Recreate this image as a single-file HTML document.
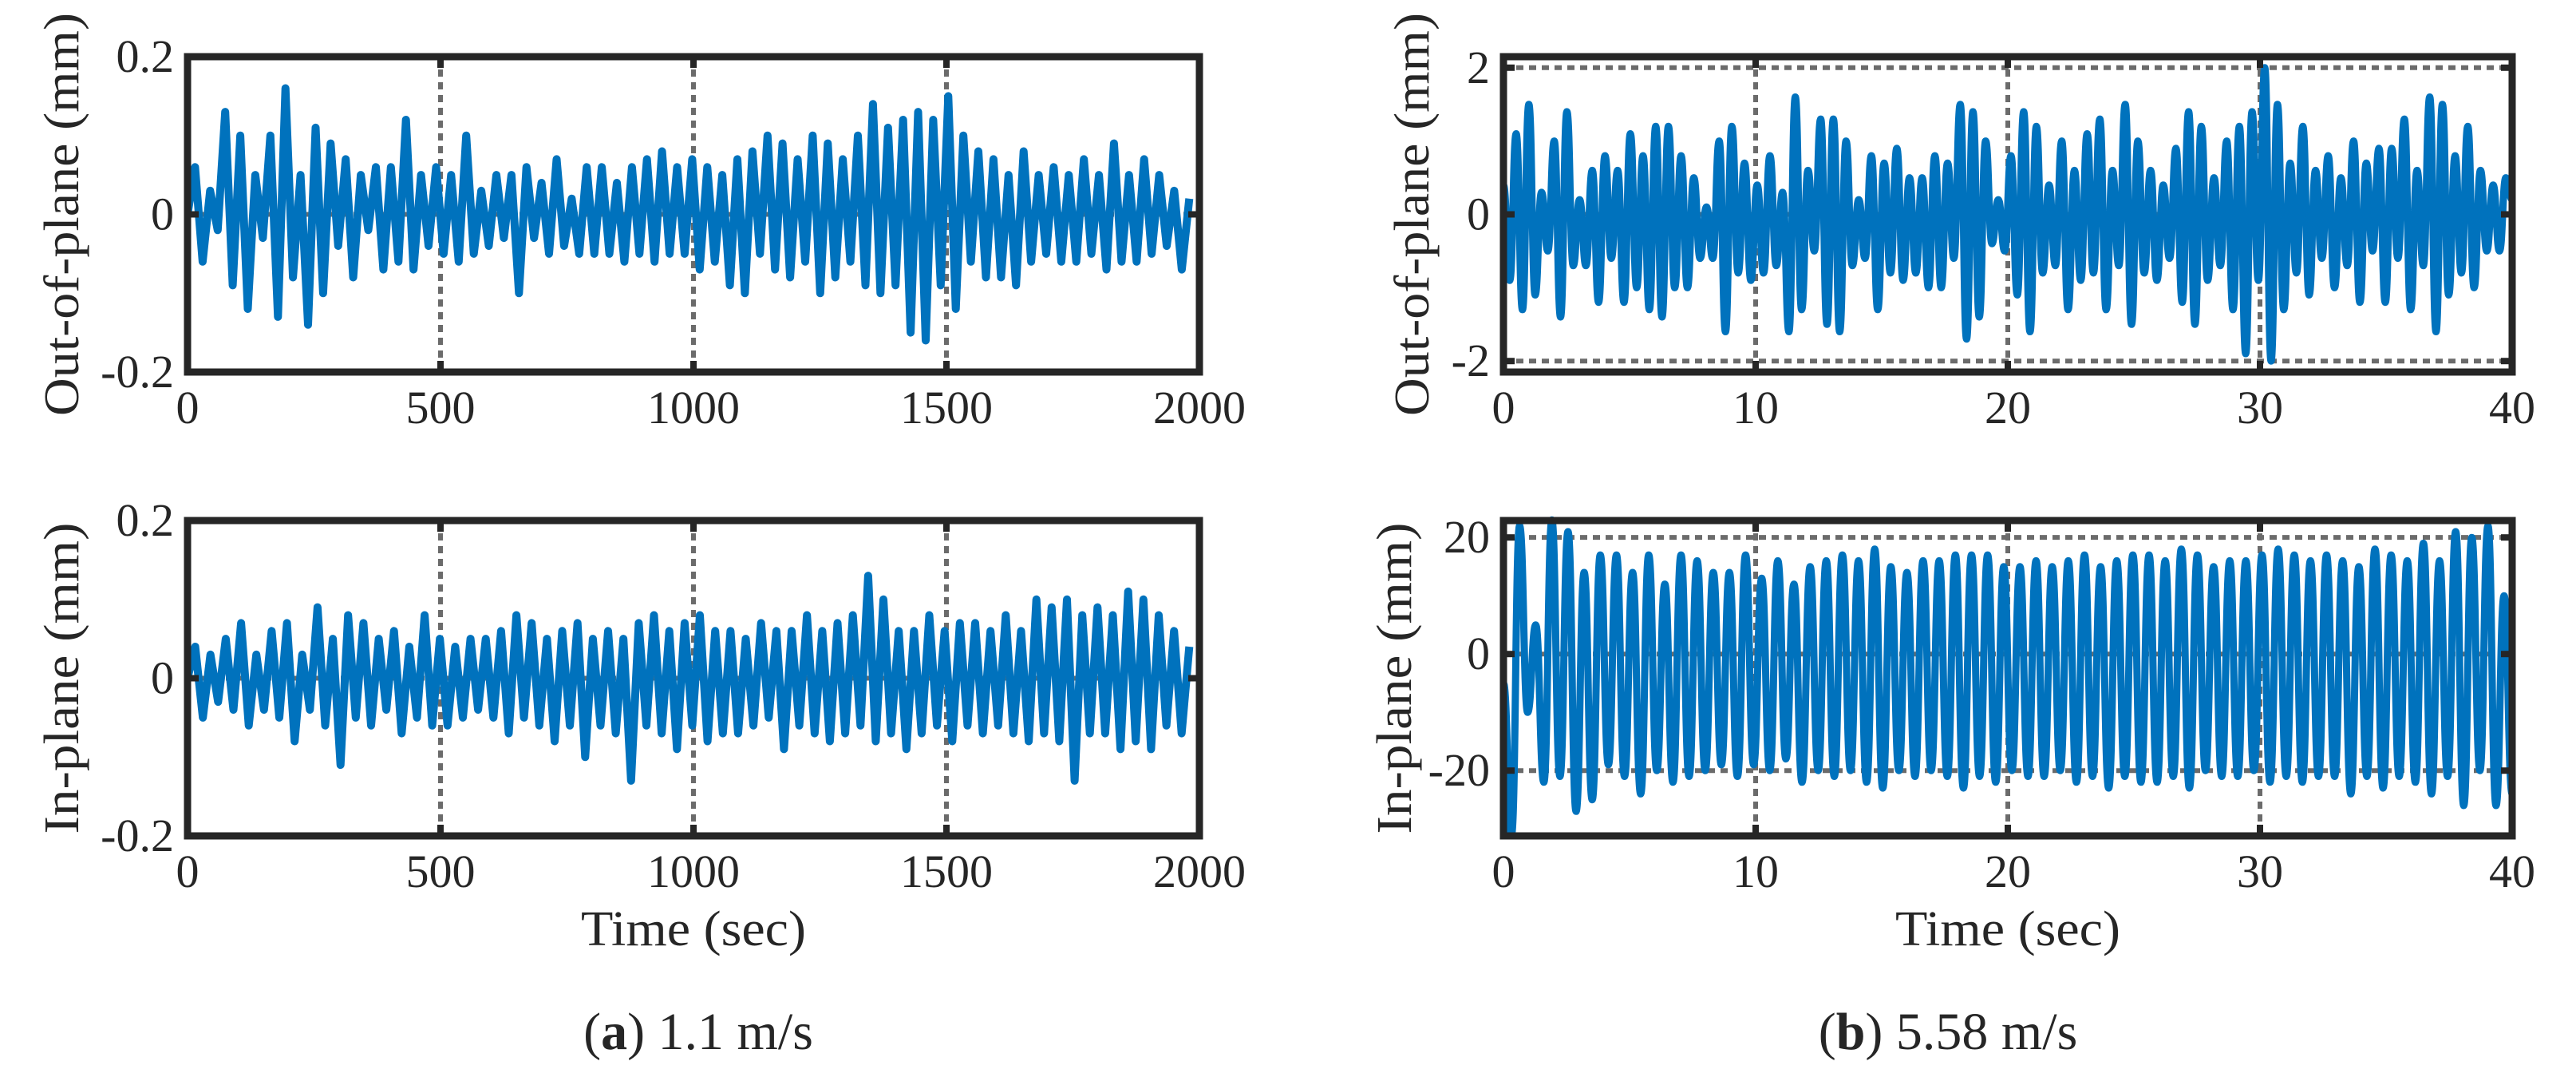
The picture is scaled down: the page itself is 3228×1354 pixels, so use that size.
<!DOCTYPE html>
<html><head><meta charset="utf-8"><style>
html,body{margin:0;padding:0;background:#fff;}
svg{display:block;}
text{font-family:"Liberation Serif",serif;fill:#262626;}
</style></head><body>
<svg id="fig" width="3228" height="1354" viewBox="0 0 3228 1354" xmlns="http://www.w3.org/2000/svg">
<g id="layer"></g>
<text x="875" y="1314" font-size="66" text-anchor="middle">(<tspan font-weight="bold">a</tspan>) 1.1 m/s</text>
<text x="2441" y="1314" font-size="66" text-anchor="middle">(<tspan font-weight="bold">b</tspan>) 5.58 m/s</text>
</svg>
<script>
// ---- data ----
const aOutValues = [0,0.06,-0.06,0.03,-0.02,0.13,-0.09,0.1,-0.12,0.05,-0.03,0.1,-0.13,0.16,-0.08,0.05,-0.14,0.11,-0.1,0.09,-0.04,0.07,-0.08,0.05,-0.02,0.06,-0.07,0.06,-0.06,0.12,-0.07,0.05,-0.04,0.06,-0.05,0.05,-0.06,0.1,-0.05,0.03,-0.04,0.05,-0.03,0.05,-0.1,0.06,-0.03,0.04,-0.05,0.07,-0.04,0.02,-0.05,0.06,-0.05,0.06,-0.05,0.04,-0.06,0.06,-0.05,0.07,-0.06,0.08,-0.05,0.06,-0.05,0.07,-0.07,0.06,-0.06,0.05,-0.09,0.07,-0.1,0.08,-0.05,0.1,-0.07,0.09,-0.08,0.07,-0.06,0.1,-0.1,0.09,-0.08,0.07,-0.06,0.1,-0.09,0.14,-0.1,0.11,-0.09,0.12,-0.15,0.13,-0.16,0.12,-0.09,0.15,-0.12,0.1,-0.06,0.08,-0.08,0.07,-0.08,0.05,-0.09,0.08,-0.06,0.05,-0.05,0.06,-0.06,0.05,-0.06,0.07,-0.05,0.05,-0.07,0.09,-0.06,0.05,-0.06,0.07,-0.05,0.05,-0.04,0.03,-0.07,0.02];
const aInValues = [0,0.04,-0.05,0.03,-0.03,0.05,-0.04,0.07,-0.06,0.03,-0.04,0.06,-0.05,0.07,-0.08,0.03,-0.04,0.09,-0.06,0.05,-0.11,0.08,-0.05,0.07,-0.06,0.05,-0.04,0.06,-0.07,0.04,-0.05,0.08,-0.06,0.05,-0.06,0.04,-0.05,0.05,-0.04,0.05,-0.05,0.06,-0.07,0.08,-0.05,0.07,-0.06,0.05,-0.08,0.06,-0.06,0.07,-0.1,0.05,-0.06,0.06,-0.07,0.05,-0.13,0.07,-0.06,0.08,-0.07,0.06,-0.09,0.07,-0.06,0.08,-0.08,0.06,-0.07,0.06,-0.07,0.05,-0.06,0.07,-0.05,0.06,-0.09,0.06,-0.06,0.08,-0.07,0.06,-0.08,0.07,-0.07,0.08,-0.06,0.13,-0.08,0.1,-0.07,0.06,-0.09,0.06,-0.07,0.08,-0.06,0.06,-0.08,0.07,-0.06,0.07,-0.07,0.06,-0.06,0.08,-0.07,0.06,-0.08,0.1,-0.07,0.09,-0.08,0.1,-0.13,0.08,-0.07,0.09,-0.07,0.08,-0.09,0.11,-0.08,0.1,-0.09,0.08,-0.06,0.06,-0.07,0.04];
const bOutValues = [0.4,-0.9,1.1,-1.3,1.5,-1.1,0.3,-0.5,1.0,-1.4,1.4,-0.7,0.2,-0.7,0.6,-1.2,0.8,-0.6,0.6,-1.2,1.1,-1.0,0.8,-1.3,1.2,-1.4,1.2,-1.0,0.8,-1.0,0.5,-0.6,0.1,-0.6,1.0,-1.6,1.2,-0.8,0.7,-0.9,
0.4,-0.8,0.8,-0.7,0.3,-1.6,1.6,-1.3,0.6,-0.5,1.3,-1.5,1.3,-1.6,1.0,-0.7,0.2,-0.6,0.8,-1.3,0.7,-0.8,0.9,-0.9,0.5,-0.8,0.5,-1.0,0.8,-1.0,0.7,-0.6,1.5,-1.7,1.4,-1.4,1.0,-0.4,0.2,-0.5,
0.8,-1.1,1.4,-1.6,1.2,-0.8,0.4,-0.7,1.0,-1.3,0.6,-0.9,1.1,-0.8,1.3,-1.3,0.6,-0.7,1.5,-1.5,1.0,-0.8,0.6,-0.9,0.4,-0.6,0.9,-1.2,1.4,-1.5,1.2,-0.9,0.5,-0.7,1.0,-1.3,1.2,-1.9,1.4,-0.9,
2.0,-2.0,1.5,-1.3,0.7,-0.8,1.2,-1.1,0.6,-0.6,0.8,-1.0,0.5,-0.7,1.0,-1.2,0.7,-0.5,0.9,-1.2,0.9,-0.6,1.3,-1.3,0.6,-0.7,1.6,-1.6,1.5,-1.1,0.8,-0.8,1.2,-1.0,0.6,-0.5,0.4,-0.5,0.5,0.2];
const bInValues = [-5,-31,22,-10,5,-22,23,-21,21,-27,14,-25,17,-19,17,-21,14,-24,17,-20,12,-22,17,-21,16,-20,14,-19,14,-21,17,-19,13,-20,16,-18,12,-22,15,-20,
16,-21,17,-20,16,-22,18,-23,15,-20,14,-21,16,-20,16,-21,17,-23,17,-21,17,-22,15,-20,15,-21,16,-21,15,-20,16,-22,17,-21,15,-23,16,-21,17,-22,17,-22,16,
-21,18,-23,17,-20,15,-21,16,-21,16,-20,17,-22,18,-21,17,-22,16,-21,17,-21,16,-24,15,-21,18,-23,17,-21,16,-22,19,-24,16,-21,21,-26,20,-20,22,-26,10,-24];
const aTicksX = [0,500,1000,1500,2000];
const bTicksX = [0,10,20,30,40];
const aTicksY = [-0.2,0,0.2];
const aTickLabelsY = ["-0.2","0","0.2"];
const bOutTicksY = [-2,0,2];
const bInTicksY = [-20,0,20];

// ---- layout ----
const NS = "http://www.w3.org/2000/svg";
const layer = document.getElementById('layer');
function mk(tag, attrs, parent){ const e=document.createElementNS(NS,tag); for(const k in attrs) e.setAttribute(k,attrs[k]); (parent||layer).appendChild(e); return e; }

function panel(o){
  const g = mk('g',{});
  
  
  const sx = v => o.x0 + (v-o.xmin)/(o.xmax-o.xmin)*(o.x1-o.x0);
  const sy = v => o.y1 - (v-o.ymin)/(o.ymax-o.ymin)*(o.y1-o.y0);
  o.gridX.forEach(v=>{ const l=mk('line',{x1:sx(v),x2:sx(v),y1:o.y0,y2:o.y1,stroke:'#6b6b6b','stroke-width':6,'stroke-dasharray':'9 7'},g);
      });
  o.gridY.forEach(v=>{ const l=mk('line',{x1:o.x0,x2:o.x1,y1:sy(v),y2:sy(v),stroke:'#6b6b6b','stroke-width':6,'stroke-dasharray':'9 7'},g);
      });
  const vals=o.values, n=vals.length, dt=o.span/(n-1);
  const pts = vals.map((v,i)=>[sx(i*dt), sy(v)]);
  let d = 'M'+pts[0][0].toFixed(1)+','+pts[0][1].toFixed(1);
  for(let i=1;i<n;i++){
    if(o.smooth){ const mx=(pts[i-1][0]+pts[i][0])/2;
      d+=' C'+mx.toFixed(1)+','+pts[i-1][1].toFixed(1)+' '+mx.toFixed(1)+','+pts[i][1].toFixed(1)+' '+pts[i][0].toFixed(1)+','+pts[i][1].toFixed(1);
    } else d+=' L'+pts[i][0].toFixed(1)+','+pts[i][1].toFixed(1);
  }
  const cp = mk('clipPath',{id:o.name+'-clip'},g);
  mk('rect',{x:o.x0,y:o.y0-6,width:o.x1-o.x0,height:o.y1-o.y0+12},cp);
  const p = mk('path',{d:d,fill:'none',stroke:'#0072BD','stroke-width':o.sw,'stroke-linejoin':'round','clip-path':'url(#'+o.name+'-clip)'},g);
   
  o.ticksX.forEach(v=>{ [[o.y1,o.y1-14],[o.y0,o.y0+14]].forEach(([a,b])=>mk('line',{x1:sx(v),x2:sx(v),y1:a,y2:b,stroke:'#262626','stroke-width':8},g)); });
  o.ticksY.forEach(v=>{ [[o.x0,o.x0+14],[o.x1,o.x1-14]].forEach(([a,b])=>mk('line',{x1:a,x2:b,y1:sy(v),y2:sy(v),stroke:'#262626','stroke-width':8},g)); });
  const r = mk('rect',{x:o.x0,y:o.y0,width:o.x1-o.x0,height:o.y1-o.y0,fill:'none',stroke:'#262626','stroke-width':9},g);
   
  o.ticksX.forEach(v=>{ const t=mk('text',{x:sx(v),y:o.y1+64,'font-size':58,'text-anchor':'middle'},g); t.textContent=String(v);
      });
  o.ticksY.forEach((v,i)=>{ const t=mk('text',{x:o.x0-17,y:sy(v)+19,'font-size':58,'text-anchor':'end'},g); t.textContent=o.tickLabelsY[i];
      });
  const yl = mk('text',{x:0,y:0,'font-size':62,'text-anchor':'middle',textLength:o.ylen,lengthAdjust:'spacingAndGlyphs',transform:'translate('+o.ylx+','+((o.y0+o.y1)/2)+') rotate(-90)'},g);
  yl.textContent=o.ylabel;
   
  if(o.xlabel){ const xl=mk('text',{x:(o.x0+o.x1)/2,y:o.y1+137,'font-size':62,'text-anchor':'middle',textLength:282,lengthAdjust:'spacingAndGlyphs'},g); xl.textContent=o.xlabel;
      }
}

panel({name:'panel-a-out-of-plane',x0:235,x1:1503,y0:71,y1:466,xmin:0,xmax:2000,ymin:-0.2,ymax:0.2,values:aOutValues,span:1980,smooth:false,sw:10,
  gridX:[500,1000,1500],gridY:[0],ticksX:aTicksX,ticksY:aTicksY,tickLabelsY:aTickLabelsY,ylabel:'Out-of-plane (mm)',ylx:98,ylen:505});
panel({name:'panel-a-in-plane',x0:235,x1:1503,y0:652,y1:1047,xmin:0,xmax:2000,ymin:-0.2,ymax:0.2,values:aInValues,span:1980,smooth:false,sw:10,
  gridX:[500,1000,1500],gridY:[0],ticksX:aTicksX,ticksY:aTicksY,tickLabelsY:aTickLabelsY,ylabel:'In-plane (mm)',ylx:98,ylen:390,xlabel:'Time (sec)'});
panel({name:'panel-b-out-of-plane',x0:1884,x1:3148,y0:71,y1:466,xmin:0,xmax:40,ymin:-2.15,ymax:2.15,values:bOutValues,span:40,smooth:true,sw:9,
  gridX:[10,20,30],gridY:[-2,0,2],ticksX:bTicksX,ticksY:bOutTicksY,tickLabelsY:bOutTicksY.map(String),ylabel:'Out-of-plane (mm)',ylx:1790,ylen:505});
panel({name:'panel-b-in-plane',x0:1884,x1:3148,y0:652,y1:1047,xmin:0,xmax:40,ymin:-31.2,ymax:22.9,values:bInValues,span:40,smooth:true,sw:9,
  gridX:[10,20,30],gridY:[-20,0,20],ticksX:bTicksX,ticksY:bInTicksY,tickLabelsY:bInTicksY.map(String),ylabel:'In-plane (mm)',ylx:1768,ylen:390,xlabel:'Time (sec)'});
</script>
</body></html>
